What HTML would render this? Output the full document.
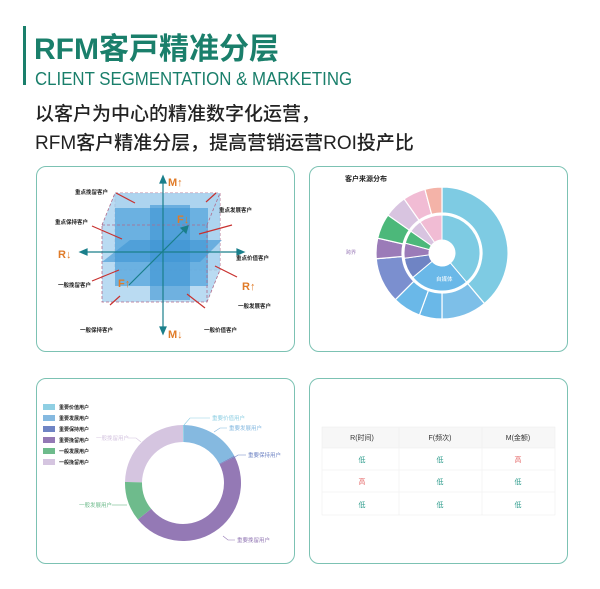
<!DOCTYPE html>
<html><head><meta charset="utf-8"><style>
*{margin:0;padding:0;box-sizing:border-box}
body{width:600px;height:589px;background:#fff;position:relative;overflow:hidden;font-family:"Liberation Sans","Noto Sans CJK SC",sans-serif}
.bar{position:absolute;left:23px;top:26px;width:3px;height:59px;background:#1a7f6b}
.t1{position:absolute;left:34px;top:24px;font-size:30px;font-weight:bold;color:#1a7f6b;letter-spacing:0px;white-space:nowrap}
.t2{position:absolute;left:35px;top:68px;font-size:18.5px;color:#1a7f6b;white-space:nowrap;transform:scaleX(0.91);transform-origin:0 0}
.t3{position:absolute;left:35px;top:100px;font-size:19px;color:#222;line-height:29px;white-space:nowrap;font-weight:500}
.card{position:absolute;border:1.5px solid #7cc2b3;border-radius:10px;background:#fff}
svg text{font-family:"Liberation Sans","Noto Sans CJK SC",sans-serif}
</style></head><body>
<div class="bar"></div>
<div class="t1">RFM客戸精准分层</div>
<div class="t2">CLIENT SEGMENTATION &amp; MARKETING</div>
<div class="t3">以客户为中心的精准数字化运营，<br>RFM客户精准分层，提高营销运营ROI投产比</div>
<div class="card" style="left:36px;top:166px;width:259px;height:186px"></div>
<div class="card" style="left:309px;top:166px;width:259px;height:186px"></div>
<div class="card" style="left:36px;top:378px;width:259px;height:186px"></div>
<div class="card" style="left:309px;top:378px;width:259px;height:186px"></div>
<svg id="s" width="600" height="589" style="position:absolute;left:0;top:0">
<g>
<rect x="115" y="193" width="105" height="77" fill="#bcdcf0" stroke="#b06a8a" stroke-dasharray="3,2" stroke-width="0.8"/>
<polygon points="102,225 115,193 220,193 220,270 207,302 102,302" fill="#a9d2ef" opacity="0.8"/>
<rect x="115" y="208" width="93" height="78" fill="#5aa8dd" opacity="0.8"/>
<polygon points="150,205 190,205 190,300 150,300" fill="#3d95d3" opacity="0.6"/>
<polygon points="102,262 130,240 222,240 200,262" fill="#3d95d3" opacity="0.6"/>
<rect x="102" y="225" width="105" height="77" fill="none" stroke="#b06a8a" stroke-dasharray="3,2" stroke-width="0.8"/>
<line x1="102" y1="225" x2="115" y2="193" stroke="#b06a8a" stroke-dasharray="3,2" stroke-width="0.8"/>
<line x1="207" y1="225" x2="220" y2="193" stroke="#b06a8a" stroke-dasharray="3,2" stroke-width="0.8"/>
<line x1="207" y1="302" x2="220" y2="270" stroke="#b06a8a" stroke-dasharray="3,2" stroke-width="0.8"/>
<g stroke="#1a7f8b" stroke-width="1.2" fill="#1a7f8b">
<line x1="163" y1="180" x2="163" y2="330"/><polygon points="163,176 160,183 166,183"/><polygon points="163,334 160,327 166,327"/>
<line x1="84" y1="252" x2="240" y2="252"/><polygon points="80,252 87,249 87,255"/><polygon points="244,252 237,249 237,255"/>
<line x1="129" y1="285" x2="185" y2="229"/><polygon points="188,226 181,228 186,233"/>
</g>
<g stroke="#c8312f" stroke-width="1.2">
<line x1="116" y1="193" x2="135" y2="203"/><line x1="206" y1="202" x2="216" y2="193"/>
<line x1="92" y1="226" x2="122" y2="239"/><line x1="199" y1="234" x2="232" y2="225"/>
<line x1="92" y1="281" x2="119" y2="270"/><line x1="215" y1="266" x2="237" y2="277"/>
<line x1="110" y1="305" x2="120" y2="296"/><line x1="187" y1="294" x2="205" y2="308"/>
</g>
<g font-size="11" font-weight="bold" fill="#e07b28">
<text x="168" y="186">M↑</text><text x="168" y="338">M↓</text><text x="58" y="258">R↓</text><text x="242" y="290">R↑</text>
<text x="177" y="223">F↓</text><text x="118" y="287">F↑</text>
</g>
<g font-size="5.5" font-weight="bold" fill="#222">
<text x="75" y="194">重点挽留客户</text><text x="219" y="212">重点发展客户</text><text x="55" y="224">重点保持客户</text>
<text x="236" y="260">重点价值客户</text><text x="58" y="287">一般挽留客户</text><text x="238" y="308">一般发展客户</text>
<text x="80" y="332">一般保持客户</text><text x="204" y="332">一般价值客户</text>
</g>
</g>
<text x="345" y="181" font-size="7" font-weight="bold" fill="#222">客户来源分布</text>
<g id="sun"></g>
<g font-size="5" fill="#9b7bb8"><text x="346" y="254">跨界</text></g>
<text x="436" y="281" font-size="5.5" fill="#fff">自媒体</text>
<g font-size="5" font-weight="bold" fill="#222">
<rect x="43" y="404" width="12" height="6" fill="#8fcfe3"/><text x="59" y="409">重要价值用户</text>
<rect x="43" y="415" width="12" height="6" fill="#85b9e0"/><text x="59" y="420">重要发展用户</text>
<rect x="43" y="426" width="12" height="6" fill="#6f84c4"/><text x="59" y="431">重要保持用户</text>
<rect x="43" y="437" width="12" height="6" fill="#9479b5"/><text x="59" y="442">重要挽留用户</text>
<rect x="43" y="448" width="12" height="6" fill="#6ebb8c"/><text x="59" y="453">一般发展用户</text>
<rect x="43" y="459" width="12" height="6" fill="#d5c5e0"/><text x="59" y="464">一般挽留用户</text>
</g>
<g id="don"></g>
<g font-size="5.5" fill="none" stroke-width="0.6">
<polyline points="184,425 190,418 210,418" stroke="#8fcfe3"/><text x="212" y="420" fill="#8fcfe3" stroke="none">重要价值用户</text>
<polyline points="214,432 220,428 227,428" stroke="#85b9e0"/><text x="229" y="430" fill="#85b9e0" stroke="none">重要发展用户</text>
<polyline points="232,459 238,455 246,455" stroke="#6f84c4"/><text x="248" y="457" fill="#6f84c4" stroke="none">重要保持用户</text>
<polyline points="223,536 228,540 235,540" stroke="#9479b5"/><text x="237" y="542" fill="#9479b5" stroke="none">重要挽留用户</text>
<polyline points="127,505 118,505 112,505" stroke="#6ebb8c"/><text x="79" y="507" fill="#6ebb8c" stroke="none">一般发展用户</text>
<polyline points="141,442 136,438 128,438" stroke="#d5c5e0"/><text x="96" y="440" fill="#d5c5e0" stroke="none">一般挽留用户</text>
</g>
<rect x="322" y="427" width="233" height="21" fill="#f7f7f7"/>
<g stroke="#eee" stroke-width="0.6" fill="none">
<rect x="322" y="427" width="233" height="88"/><line x1="399" y1="427" x2="399" y2="515"/><line x1="482" y1="427" x2="482" y2="515"/>
<line x1="322" y1="448" x2="555" y2="448"/><line x1="322" y1="470" x2="555" y2="470"/><line x1="322" y1="492" x2="555" y2="492"/>
</g>
<g font-size="7" text-anchor="middle">
<text x="362" y="440" fill="#333">R(时间)</text><text x="440" y="440" fill="#333">F(频次)</text><text x="518" y="440" fill="#333">M(金额)</text>
<text x="362" y="462" fill="#2a9a8a">低</text><text x="440" y="462" fill="#2a9a8a">低</text><text x="518" y="462" fill="#e56a6a">高</text>
<text x="362" y="484" fill="#e56a6a">高</text><text x="440" y="484" fill="#2a9a8a">低</text><text x="518" y="484" fill="#2a9a8a">低</text>
<text x="362" y="507" fill="#2a9a8a">低</text><text x="440" y="507" fill="#2a9a8a">低</text><text x="518" y="507" fill="#2a9a8a">低</text>
</g>
</svg>
<script>
function arc(cx,cy,r0,r1,a0,a1,c,sw){
 const R=Math.PI/180,p=(r,a)=>[cx+r*Math.sin(a*R),cy-r*Math.cos(a*R)];
 const l=(a1-a0)>180?1:0;
 const [x0,y0]=p(r1,a0),[x1,y1]=p(r1,a1),[x2,y2]=p(r0,a1),[x3,y3]=p(r0,a0);
 return `<path d="M${x0},${y0}A${r1},${r1} 0 ${l} 1 ${x1},${y1}L${x2},${y2}A${r0},${r0} 0 ${l} 0 ${x3},${y3}Z" fill="${c}" stroke="#fff" stroke-width="${sw}"/>`;
}
let h='';
[[0,140,'#7ecbe3'],[140,180,'#7dbfe8'],[180,200,'#6ab8e8'],[200,225,'#6ab8e8'],[225,265,'#7b8fcf'],[265,283,'#9b7bb8'],[283,305,'#4cb87a'],[305,325,'#d8c4e0'],[325,345,'#f1bcd4'],[345,360,'#f4b3a8']].forEach(s=>h+=arc(442,253,40,66,s[0],s[1],s[2],1.2));
[[0,140,'#7ecbe3'],[140,230,'#6ab8e8'],[230,262,'#6f84c4'],[262,285,'#9b7bb8'],[285,305,'#4cb87a'],[305,325,'#d8c4e0'],[325,360,'#f1bcd4']].forEach(s=>h+=arc(442,253,13,38,s[0],s[1],s[2],1));
document.getElementById('sun').innerHTML=h;
h='';
[[0,1,'#8fcfe3'],[1,62,'#85b9e0'],[62,63,'#6f84c4'],[63,231,'#9479b5'],[231,271,'#6ebb8c'],[271,360,'#d5c5e0']].forEach(s=>h+=arc(183,483,41,58,s[0],s[1],s[2],0));
document.getElementById('don').innerHTML=h;
</script>
</body></html>
